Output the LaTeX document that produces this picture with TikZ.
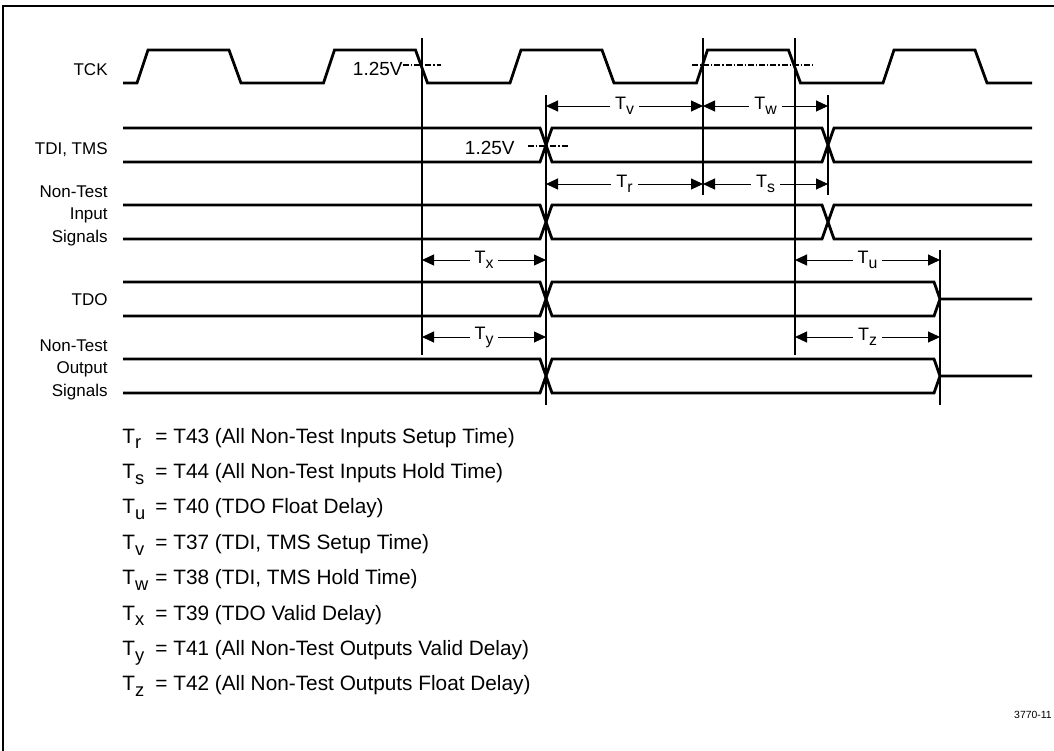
\documentclass[tikz,border=0pt]{standalone}
\usepackage{fontspec}
\setmainfont{Liberation Sans}
\usetikzlibrary{arrows.meta}

\newcommand{\lowsub}[1]{\raisebox{-0.28em}{\scalebox{0.88}{#1}}}

\tikzset{
	wave/.style={line width=1.4pt},
	marker/.style={line width=1pt},
	tarrow/.style={line width=0.5pt,{Triangle[length=6pt,width=5.5pt]}-{Triangle[length=6pt,width=5.5pt]}},
	lvl/.style={line width=0.6pt,dash pattern=on 3pt off 1pt on 0.6pt off 1pt},
	sig/.style={anchor=base east,inner sep=0pt,align=right,font=\fontsize{8.5}{11.25}\selectfont},
	tlab/.style={fill=white,inner sep=2.5pt,font=\fontsize{9}{10}\selectfont},
	volt/.style={anchor=base east,inner sep=0pt,font=\fontsize{9.5}{10}\selectfont},
	leg/.style={anchor=base west,inner sep=0pt,font=\fontsize{10.4}{12}\selectfont}
}

\begin{document}
\begin{tikzpicture}[x=0.5pt,y=-0.5pt]
	\useasboundingbox (0,0) rectangle (1054,750);
	\draw[line width=1pt] (3,752) -- (3,5.5) -- (1056,5.5);
	% signal names
	\node[sig] (tck) at (108,75) {TCK};
	\node[sig] (tdi) at (108,154) {TDI, TMS};
	\node[sig] (nti) at (108,242) {Non-Test\\Input\\Signals};
	\node[sig] (tdo) at (108,305) {TDO};
	\node[sig] (nto) at (108,396) {Non-Test\\Output\\Signals};
	% clock
	\draw[wave] (123,83) \foreach \x in {137,323.5,510,696.5,883}
		{ -- (\x,83) -- (\x+11,50) -- (\x+92,50) -- (\x+104,83) } -- (1032,83);
	% inputs
	\foreach \y in {128,205}
	{
		\draw[wave] (123,\y) -- (540,\y) -- (552,\y+34) -- (822,\y+34) -- (834,\y) -- (1032,\y);
		\draw[wave] (123,\y+34) -- (540,\y+34) -- (552,\y) -- (822,\y) -- (834,\y+34) -- (1032,\y+34);
	}
	% outputs
	\foreach \y in {282,359}
	{
		\draw[wave] (123,\y) -- (540,\y) -- (552,\y+34) -- (934,\y+34) -- (940,\y+17) -- (1032,\y+17);
		\draw[wave] (123,\y+34) -- (540,\y+34) -- (552,\y) -- (934,\y) -- (940,\y+17);
	}
	% timing markers
	\foreach \n/\x/\ya/\yb in {ck1/422/38/355, d1/546/95/405, ck2/703/38/195,
		ck3/795/38/355, d2/828/95/195, q1/940/250/405}
		\draw[marker] (\x,\ya) coordinate (\n) -- (\x,\yb);
	% 1.25V levels
	\node[volt] (v1) at (403,75) {1.25V};
	\draw[lvl] (v1.east |- 0,65) -- (441,65);
	\draw[lvl] (692,65) -- (815,65);
	\node[volt] (v2) at (515,154) {1.25V};
	\draw[lvl] (528,146) -- (568,146);
	% timings
	\draw[tarrow] (d1 |- 0,106) -- node[tlab] {T\lowsub{v}} (ck2 |- 0,106);
	\draw[tarrow] (ck2 |- 0,106) -- node[tlab] {T\lowsub{w}} (d2 |- 0,106);
	\draw[tarrow] (d1 |- 0,184) -- node[tlab] {T\lowsub{r}} (ck2 |- 0,184);
	\draw[tarrow] (ck2 |- 0,184) -- node[tlab] {T\lowsub{s}} (d2 |- 0,184);
	\draw[tarrow] (ck1 |- 0,260) -- node[tlab] {T\lowsub{x}} (d1 |- 0,260);
	\draw[tarrow] (ck3 |- 0,260) -- node[tlab] {T\lowsub{u}} (q1 |- 0,260);
	\draw[tarrow] (ck1 |- 0,337) -- node[tlab] {T\lowsub{y}} (d1 |- 0,337);
	\draw[tarrow] (ck3 |- 0,337) -- node[tlab] {T\lowsub{z}} (q1 |- 0,337);
	% legend
	\foreach \s/\t [count=\n] in {r/{T43 (All Non-Test Inputs Setup Time)},
		s/{T44 (All Non-Test Inputs Hold Time)}, u/{T40 (TDO Float Delay)},
		v/{T37 (TDI, TMS Setup Time)}, w/{T38 (TDI, TMS Hold Time)},
		x/{T39 (TDO Valid Delay)}, y/{T41 (All Non-Test Outputs Valid Delay)},
		z/{T42 (All Non-Test Outputs Float Delay)}}
	{
		\node[leg] (sym\n) at (122,407.6+35.4*\n) {T\lowsub{\s}};
		\node[leg] (def\n) at (155,407.6+35.4*\n) {= \t};
	}
	\node[anchor=east,inner sep=0pt,font=\fontsize{5.2}{6}\selectfont] (fig) at (1052,715) {3770-11};
\end{tikzpicture}
\end{document}
